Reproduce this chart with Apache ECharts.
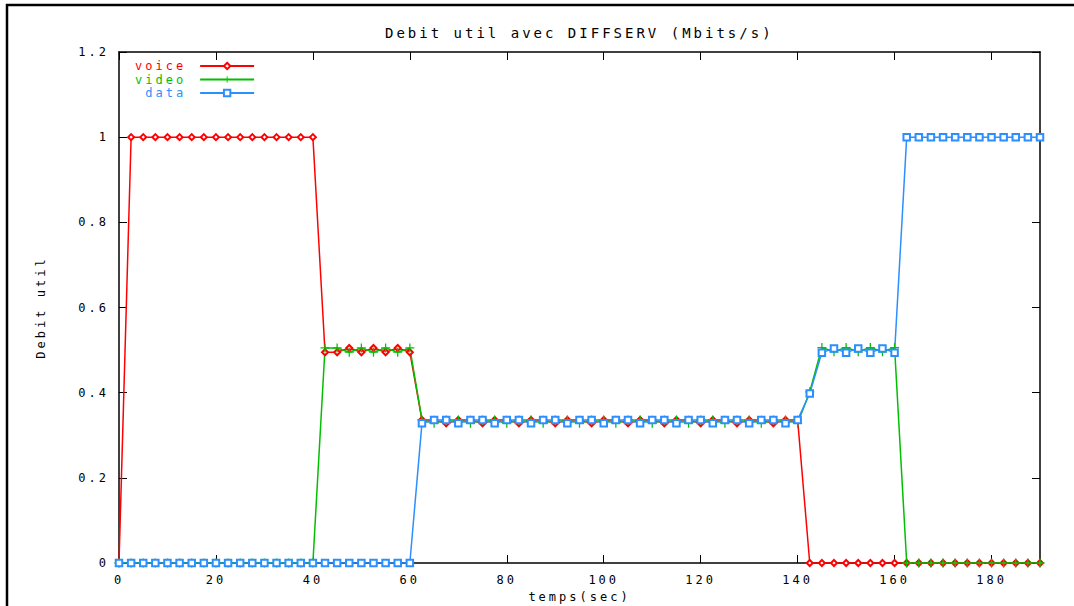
<!DOCTYPE html>
<html>
<head>
<meta charset="utf-8">
<title>Debit util avec DIFFSERV</title>
<script src="https://cdn.jsdelivr.net/npm/echarts@6/dist/echarts.min.js"></script>
<style>
html, body { margin: 0; padding: 0; background: #fff; }
#mycharts { width: 1074px; height: 606px; }
/* gnuplot bitmap font is very wide: spread the letters */
#mycharts text { letter-spacing: 3px; }
</style>
</head>
<body>
<div id="mycharts"></div>
<script>
// temps (sec)
var times = [0, 2.5, 5, 7.5, 10, 12.5, 15, 17.5, 20, 22.5, 25, 27.5, 30, 32.5, 35, 37.5, 40,
	42.5, 45, 47.5, 50, 52.5, 55, 57.5, 60,
	62.5, 65, 67.5, 70, 72.5, 75, 77.5, 80, 82.5, 85, 87.5, 90, 92.5, 95, 97.5, 100,
	102.5, 105, 107.5, 110, 112.5, 115, 117.5, 120, 122.5, 125, 127.5, 130, 132.5, 135, 137.5, 140,
	142.5, 145, 147.5, 150, 152.5, 155, 157.5, 160,
	162.5, 165, 167.5, 170, 172.5, 175, 177.5, 180, 182.5, 185, 187.5, 190];

var voice = [0, 1, 1, 1, 1, 1, 1, 1, 1, 1, 1, 1, 1, 1, 1, 1, 1,
	0.495, 0.495, 0.505, 0.495, 0.505, 0.495, 0.505, 0.495,
	0.336, 0.336, 0.328, 0.336, 0.336, 0.328, 0.336, 0.336, 0.328, 0.336, 0.336, 0.328, 0.336, 0.336, 0.328, 0.336,
	0.336, 0.328, 0.336, 0.336, 0.328, 0.336, 0.336, 0.328, 0.336, 0.336, 0.328, 0.336, 0.336, 0.328, 0.336, 0.336,
	0, 0, 0, 0, 0, 0, 0, 0,
	0, 0, 0, 0, 0, 0, 0, 0, 0, 0, 0, 0];

var video = [0, 0, 0, 0, 0, 0, 0, 0, 0, 0, 0, 0, 0, 0, 0, 0, 0,
	0.505, 0.505, 0.495, 0.505, 0.495, 0.505, 0.495, 0.505,
	0.336, 0.328, 0.336, 0.336, 0.328, 0.336, 0.336, 0.328, 0.336, 0.336, 0.328, 0.336, 0.336, 0.328, 0.336, 0.336,
	0.328, 0.336, 0.336, 0.328, 0.336, 0.336, 0.328, 0.336, 0.336, 0.328, 0.336, 0.336, 0.328, 0.336, 0.336, 0.328,
	0.402, 0.506, 0.496, 0.506, 0.496, 0.506, 0.496, 0.506,
	0, 0, 0, 0, 0, 0, 0, 0, 0, 0, 0, 0];

var data = [0, 0, 0, 0, 0, 0, 0, 0, 0, 0, 0, 0, 0, 0, 0, 0, 0,
	0, 0, 0, 0, 0, 0, 0, 0,
	0.328, 0.336, 0.336, 0.328, 0.336, 0.336, 0.328, 0.336, 0.336, 0.328, 0.336, 0.336, 0.328, 0.336, 0.336, 0.328,
	0.336, 0.336, 0.328, 0.336, 0.336, 0.328, 0.336, 0.336, 0.328, 0.336, 0.336, 0.328, 0.336, 0.336, 0.328, 0.336,
	0.398, 0.494, 0.504, 0.494, 0.504, 0.494, 0.504, 0.494,
	1, 1, 1, 1, 1, 1, 1, 1, 1, 1, 1, 1];

var xTicks = [0, 20, 40, 60, 80, 100, 120, 140, 160, 180];
var yTicks = [0, 0.2, 0.4, 0.6, 0.8, 1, 1.2];

var police = 'DejaVu Sans Mono';

function pairs(values) {
	return times.map(function(t, i) {
		return [t, values[i]];
	});
}

var myChart = echarts.init(document.getElementById('mycharts'), null, {renderer: 'svg'});

// cadre noir, ticks vers l'interieur sur les 4 cotes
var axe = {
	onZero: false,
	lineStyle: { color: '#000', width: 1.5 }
};

myChart.setOption({
	animation: false,
	backgroundColor: '#fff',
	title: {
		text: 'Debit util avec DIFFSERV (Mbits/s)',
		left: 385,
		top: 26,
		padding: 0,
		textStyle: { fontFamily: police, fontSize: 14, fontWeight: 'normal', color: '#000' }
	},
	legend: {
		orient: 'vertical',
		align: 'right',
		left: 150,
		top: 60,
		padding: 0,
		itemWidth: 54,
		itemHeight: 8,
		itemGap: 1.5,
		textStyle: { fontFamily: police, fontSize: 12, padding: [0, 9, 0, 0] },
		data: [
			{ name: 'voice', textStyle: { color: '#ff0000' } },
			{ name: 'video', textStyle: { color: '#00c000' } },
			{ name: 'data', textStyle: { color: '#2b8fff' } }
		]
	},
	grid: { left: 119, right: 34, top: 52, bottom: 43, outerBoundsMode: 'none' },
	xAxis: [{
		type: 'value',
		min: 0,
		max: 190,
		name: 'temps(sec)',
		nameLocation: 'middle',
		nameGap: 28,
		nameTextStyle: { fontFamily: police, fontSize: 12, color: '#000' },
		axisLine: axe,
		axisTick: { inside: true, length: 8, customValues: xTicks, lineStyle: { color: '#000' } },
		axisLabel: { customValues: xTicks, margin: 11, fontFamily: police, fontSize: 12, color: '#000' },
		splitLine: { show: false }
	}, {
		type: 'value',
		position: 'top',
		min: 0,
		max: 190,
		axisLine: axe,
		axisTick: { inside: true, length: 8, customValues: xTicks, lineStyle: { color: '#000' } },
		axisLabel: { show: false },
		splitLine: { show: false }
	}],
	yAxis: [{
		type: 'value',
		min: 0,
		max: 1.2,
		interval: 0.2,
		name: 'Debit util',
		nameLocation: 'middle',
		nameRotate: 90,
		nameGap: 72,
		nameTextStyle: { fontFamily: police, fontSize: 12, color: '#000' },
		axisLine: axe,
		axisTick: { inside: true, length: 8, customValues: yTicks, lineStyle: { color: '#000' } },
		axisLabel: { customValues: yTicks, margin: 10, fontFamily: police, fontSize: 12, color: '#000' },
		splitLine: { show: false }
	}, {
		type: 'value',
		position: 'right',
		min: 0,
		max: 1.2,
		interval: 0.2,
		axisLine: axe,
		axisTick: { inside: true, length: 8, customValues: yTicks, lineStyle: { color: '#000' } },
		axisLabel: { show: false },
		splitLine: { show: false }
	}],
	graphic: [
		{ type: 'line', shape: { x1: 6, y1: 5, x2: 1074, y2: 5 }, style: { stroke: '#000', lineWidth: 2.5 } },
		{ type: 'line', shape: { x1: 7, y1: 4, x2: 7, y2: 606 }, style: { stroke: '#000', lineWidth: 2.5 } }
	],
	series: [{
		name: 'voice',
		type: 'line',
		data: pairs(voice),
		symbol: 'emptyDiamond',
		symbolSize: 6,
		color: '#ff0000',
		lineStyle: { width: 1.5 },
		itemStyle: { borderWidth: 1 }
	}, {
		name: 'video',
		type: 'line',
		data: pairs(video),
		symbol: 'path://M4.3,0H5.7V4.3H10V5.7H5.7V10H4.3V5.7H0V4.3H4.3Z',
		symbolSize: 9,
		color: '#00c000',
		lineStyle: { width: 1.5 }
	}, {
		name: 'data',
		type: 'line',
		data: pairs(data),
		symbol: 'emptyRect',
		symbolSize: 6.5,
		color: '#2b8fff',
		lineStyle: { width: 1.5 },
		itemStyle: { borderWidth: 1.2 }
	}]
});
</script>
</body>
</html>
